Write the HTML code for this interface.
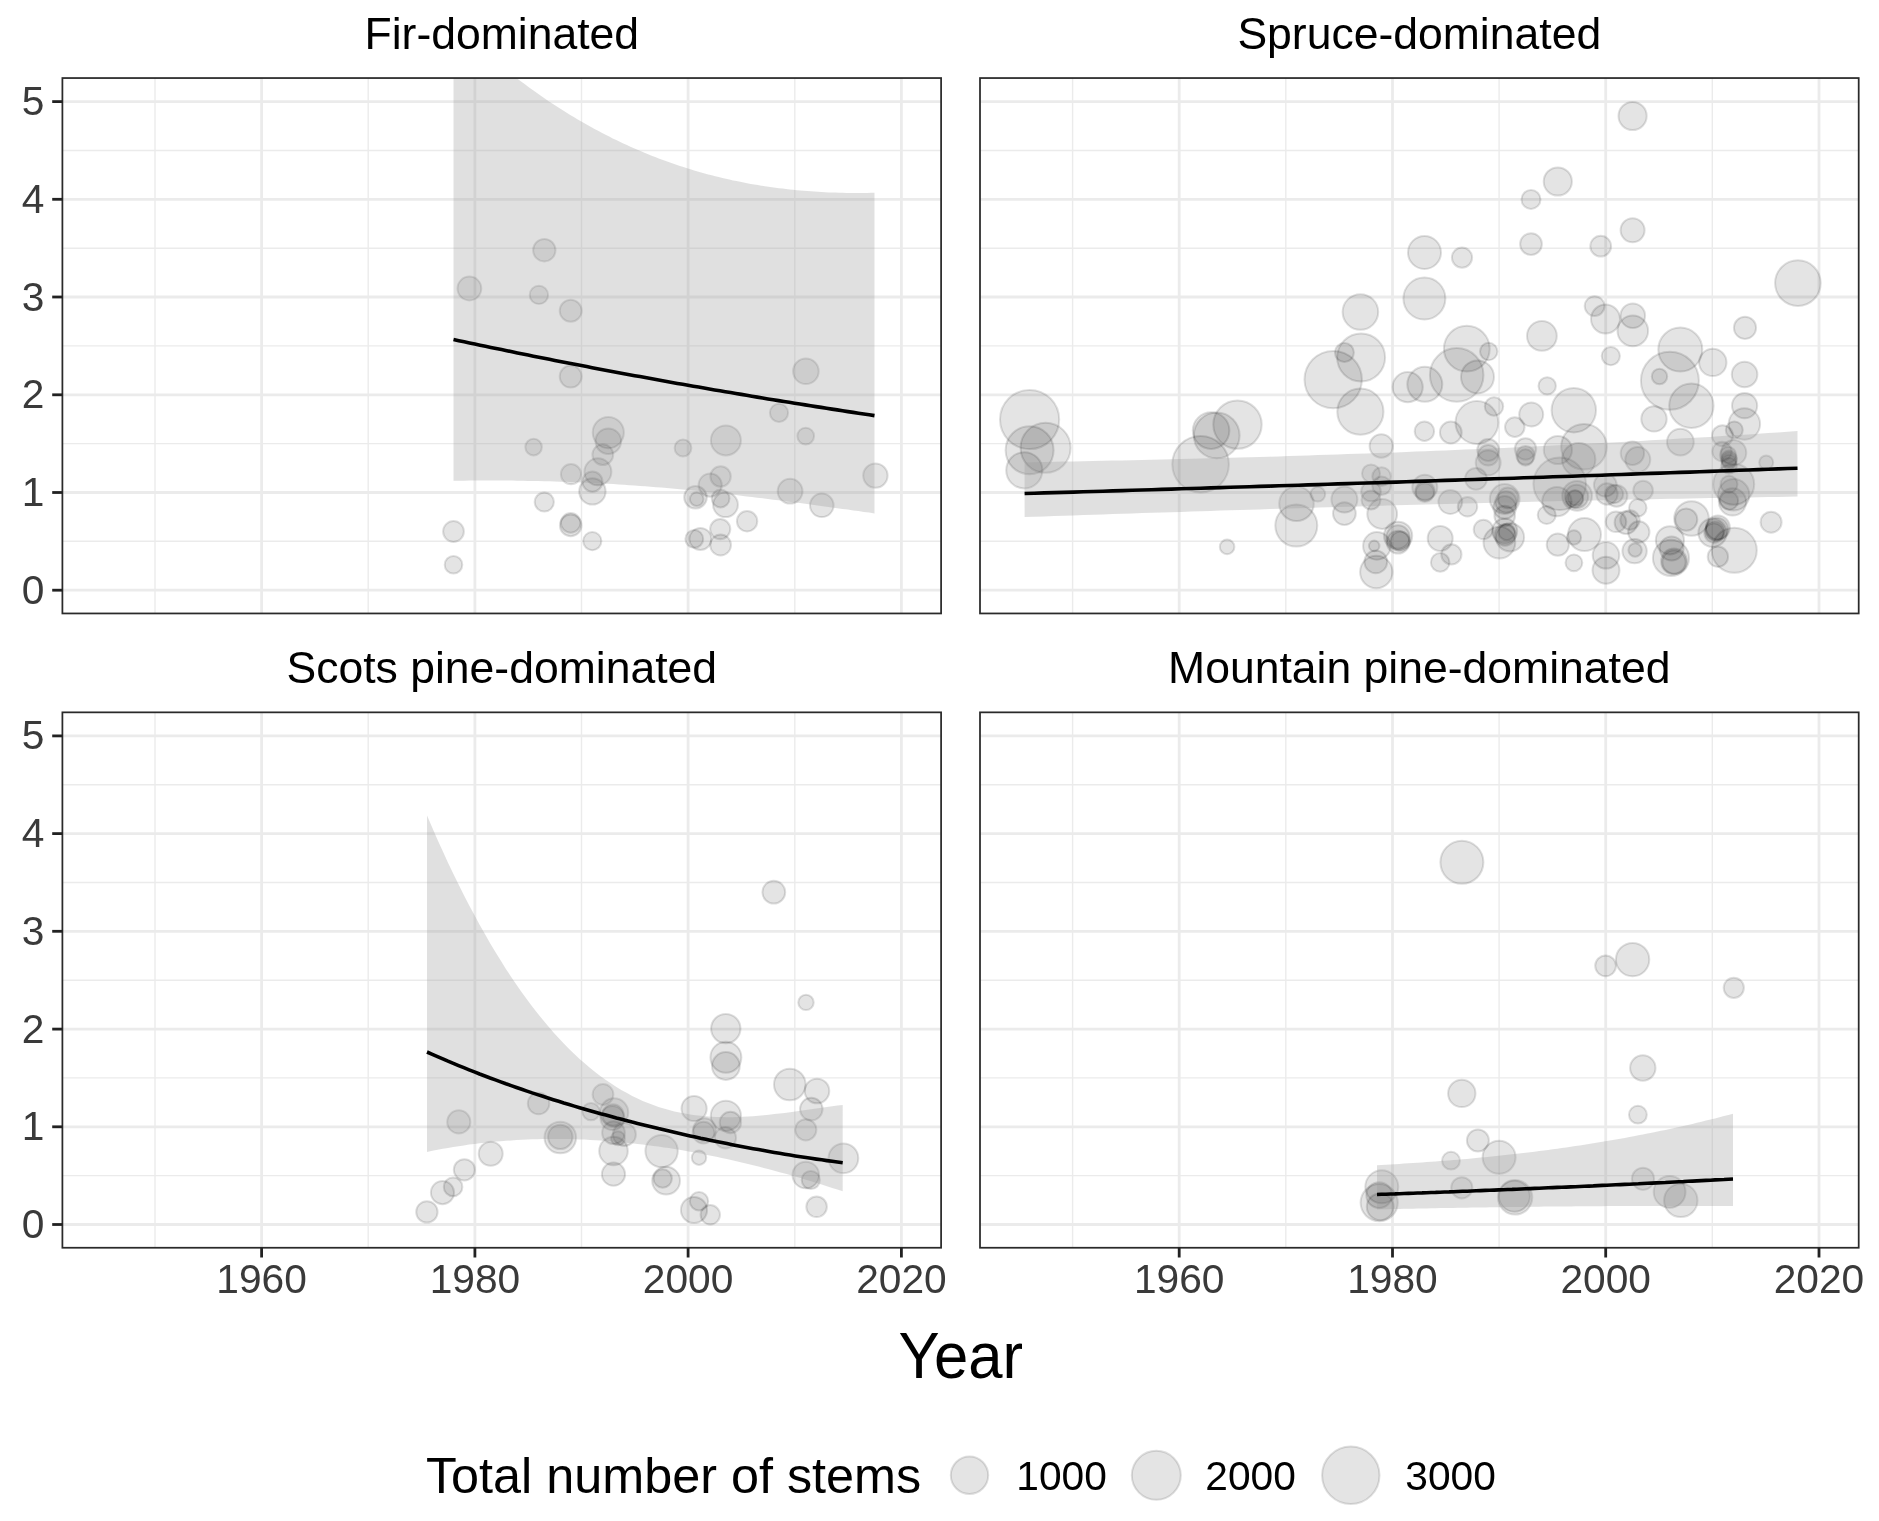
<!DOCTYPE html>
<html><head><meta charset="utf-8"><title>Total number of stems by year</title>
<style>
html,body{margin:0;padding:0;background:#fff;}
body{width:1879px;height:1521px;overflow:hidden;}
svg{display:block;will-change:transform;}
text{font-family:"Liberation Sans",Arial,Helvetica,sans-serif;}
.ax{font-size:40.7px;fill:#3a3a3a;}
.st{font-size:44.53px;fill:#000;}
.xt{font-size:61.65px;fill:#000;}
.lg{font-size:50.35px;fill:#000;}
.lt{font-size:40.7px;fill:#000;}
.pt{fill:#000;fill-opacity:0.105;stroke:#000;stroke-opacity:0.125;stroke-width:2.0px;}
</style></head><body>
<svg width="1879" height="1521" viewBox="0 0 1879 1521">
<rect width="100%" height="100%" fill="#fff"/>
<defs>
<clipPath id="c_fir"><rect x="62.4" y="78.0" width="878.7" height="535.4"/></clipPath>
<clipPath id="c_spruce"><rect x="980.0" y="78.0" width="878.7" height="535.4"/></clipPath>
<clipPath id="c_scots"><rect x="62.4" y="712.3" width="878.7" height="535.4"/></clipPath>
<clipPath id="c_mountain"><rect x="980.0" y="712.3" width="878.7" height="535.4"/></clipPath>
</defs>
<g clip-path="url(#c_fir)">
<line x1="155.0" y1="78.0" x2="155.0" y2="613.4" stroke="#ebebeb" stroke-width="1.4"/>
<line x1="368.2" y1="78.0" x2="368.2" y2="613.4" stroke="#ebebeb" stroke-width="1.4"/>
<line x1="581.5" y1="78.0" x2="581.5" y2="613.4" stroke="#ebebeb" stroke-width="1.4"/>
<line x1="794.8" y1="78.0" x2="794.8" y2="613.4" stroke="#ebebeb" stroke-width="1.4"/>
<line x1="62.4" y1="541.3" x2="941.1" y2="541.3" stroke="#ebebeb" stroke-width="1.4"/>
<line x1="62.4" y1="443.6" x2="941.1" y2="443.6" stroke="#ebebeb" stroke-width="1.4"/>
<line x1="62.4" y1="345.9" x2="941.1" y2="345.9" stroke="#ebebeb" stroke-width="1.4"/>
<line x1="62.4" y1="248.2" x2="941.1" y2="248.2" stroke="#ebebeb" stroke-width="1.4"/>
<line x1="62.4" y1="150.5" x2="941.1" y2="150.5" stroke="#ebebeb" stroke-width="1.4"/>
<line x1="261.6" y1="78.0" x2="261.6" y2="613.4" stroke="#ebebeb" stroke-width="2.8"/>
<line x1="474.9" y1="78.0" x2="474.9" y2="613.4" stroke="#ebebeb" stroke-width="2.8"/>
<line x1="688.1" y1="78.0" x2="688.1" y2="613.4" stroke="#ebebeb" stroke-width="2.8"/>
<line x1="901.4" y1="78.0" x2="901.4" y2="613.4" stroke="#ebebeb" stroke-width="2.8"/>
<line x1="62.4" y1="590.2" x2="941.1" y2="590.2" stroke="#ebebeb" stroke-width="2.8"/>
<line x1="62.4" y1="492.5" x2="941.1" y2="492.5" stroke="#ebebeb" stroke-width="2.8"/>
<line x1="62.4" y1="394.8" x2="941.1" y2="394.8" stroke="#ebebeb" stroke-width="2.8"/>
<line x1="62.4" y1="297.0" x2="941.1" y2="297.0" stroke="#ebebeb" stroke-width="2.8"/>
<line x1="62.4" y1="199.3" x2="941.1" y2="199.3" stroke="#ebebeb" stroke-width="2.8"/>
<line x1="62.4" y1="101.6" x2="941.1" y2="101.6" stroke="#ebebeb" stroke-width="2.8"/>
<circle cx="469.4" cy="288.5" r="11.9" class="pt"/>
<circle cx="544.3" cy="250.2" r="11.2" class="pt"/>
<circle cx="538.9" cy="294.9" r="9.2" class="pt"/>
<circle cx="570.7" cy="310.8" r="11.0" class="pt"/>
<circle cx="570.7" cy="376.6" r="11.0" class="pt"/>
<circle cx="805.9" cy="371.3" r="12.8" class="pt"/>
<circle cx="779.0" cy="412.8" r="9.1" class="pt"/>
<circle cx="805.7" cy="436.1" r="8.4" class="pt"/>
<circle cx="725.9" cy="440.4" r="15.0" class="pt"/>
<circle cx="683.0" cy="448.0" r="8.4" class="pt"/>
<circle cx="875.4" cy="475.6" r="12.2" class="pt"/>
<circle cx="790.1" cy="491.2" r="12.4" class="pt"/>
<circle cx="720.6" cy="476.5" r="10.2" class="pt"/>
<circle cx="710.2" cy="485.1" r="11.6" class="pt"/>
<circle cx="695.5" cy="497.3" r="11.3" class="pt"/>
<circle cx="696.7" cy="499.1" r="6.9" class="pt"/>
<circle cx="720.6" cy="498.5" r="8.9" class="pt"/>
<circle cx="725.5" cy="504.7" r="12.4" class="pt"/>
<circle cx="821.8" cy="505.3" r="11.8" class="pt"/>
<circle cx="747.1" cy="521.2" r="10.2" class="pt"/>
<circle cx="720.2" cy="529.1" r="10.1" class="pt"/>
<circle cx="694.3" cy="538.9" r="8.9" class="pt"/>
<circle cx="700.4" cy="538.9" r="11.0" class="pt"/>
<circle cx="720.6" cy="545.0" r="10.4" class="pt"/>
<circle cx="608.3" cy="432.6" r="15.6" class="pt"/>
<circle cx="608.3" cy="441.2" r="12.8" class="pt"/>
<circle cx="602.8" cy="454.7" r="10.4" class="pt"/>
<circle cx="597.9" cy="471.8" r="13.5" class="pt"/>
<circle cx="592.4" cy="481.6" r="10.1" class="pt"/>
<circle cx="592.4" cy="491.4" r="13.2" class="pt"/>
<circle cx="571.0" cy="474.2" r="10.1" class="pt"/>
<circle cx="533.6" cy="447.1" r="8.3" class="pt"/>
<circle cx="544.3" cy="502.0" r="9.6" class="pt"/>
<circle cx="570.7" cy="522.9" r="9.8" class="pt"/>
<circle cx="570.7" cy="525.4" r="10.8" class="pt"/>
<circle cx="592.3" cy="541.1" r="9.1" class="pt"/>
<circle cx="453.5" cy="531.5" r="10.4" class="pt"/>
<circle cx="453.5" cy="564.8" r="8.8" class="pt"/>
<path d="M453.5,21.4 L457.0,24.5 L460.6,27.7 L464.1,30.9 L467.7,34.1 L471.2,37.3 L474.7,40.5 L478.3,43.6 L481.8,46.8 L485.3,50.0 L488.9,53.2 L492.4,56.4 L496.0,59.6 L499.5,62.7 L503.0,65.9 L506.6,69.1 L510.1,72.3 L513.6,75.5 L517.2,78.5 L520.7,81.2 L524.3,83.8 L527.8,86.5 L531.3,89.0 L534.9,91.6 L538.4,94.1 L541.9,96.5 L545.5,99.0 L549.0,101.4 L552.6,103.7 L556.1,106.0 L559.6,108.3 L563.2,110.6 L566.7,112.8 L570.2,114.9 L573.8,117.1 L577.3,119.2 L580.9,121.3 L584.4,123.3 L587.9,125.3 L591.5,127.3 L595.0,129.2 L598.6,131.1 L602.1,133.0 L605.6,134.8 L609.2,136.6 L612.7,138.4 L616.2,140.1 L619.8,141.8 L623.3,143.5 L626.9,145.1 L630.4,146.7 L633.9,148.3 L637.5,149.8 L641.0,151.3 L644.5,152.8 L648.1,154.3 L651.6,155.7 L655.2,157.1 L658.7,158.4 L662.2,159.8 L665.8,161.1 L669.3,162.3 L672.8,163.6 L676.4,164.8 L679.9,166.0 L683.5,167.1 L687.0,168.2 L690.5,169.3 L694.1,170.4 L697.6,171.4 L701.1,172.4 L704.7,173.4 L708.2,174.4 L711.8,175.3 L715.3,176.2 L718.8,177.1 L722.4,178.0 L725.9,178.8 L729.4,179.6 L733.0,180.4 L736.5,181.1 L740.1,181.8 L743.6,182.5 L747.1,183.2 L750.7,183.9 L754.2,184.5 L757.8,185.1 L761.3,185.7 L764.8,186.2 L768.4,186.7 L771.9,187.2 L775.4,187.7 L779.0,188.2 L782.5,188.6 L786.1,189.0 L789.6,189.4 L793.1,189.8 L796.7,190.2 L800.2,190.5 L803.7,190.8 L807.3,191.1 L810.8,191.3 L814.4,191.6 L817.9,191.8 L821.4,192.0 L825.0,192.2 L828.5,192.4 L832.0,192.5 L835.6,192.6 L839.1,192.7 L842.7,192.8 L846.2,192.9 L849.7,192.9 L853.3,193.0 L856.8,193.0 L860.3,193.0 L863.9,192.9 L867.4,192.9 L871.0,192.8 L874.5,192.8 L874.5,513.4 L869.2,512.6 L863.8,511.9 L858.5,511.1 L853.2,510.4 L847.9,509.6 L842.5,508.9 L837.2,508.2 L831.9,507.4 L826.5,506.7 L821.2,506.0 L815.9,505.3 L810.6,504.5 L805.2,503.8 L799.9,503.1 L794.6,502.4 L789.2,501.7 L783.9,501.0 L778.6,500.3 L773.2,499.7 L767.9,499.0 L762.6,498.3 L757.3,497.7 L751.9,497.0 L746.6,496.4 L741.3,495.7 L735.9,495.1 L730.6,494.5 L725.3,493.9 L720.0,493.3 L714.6,492.7 L709.3,492.2 L704.0,491.6 L698.6,491.1 L693.3,490.5 L688.0,490.0 L682.7,489.5 L677.3,489.0 L672.0,488.5 L666.7,488.1 L661.3,487.6 L656.0,487.2 L650.7,486.7 L645.3,486.3 L640.0,485.9 L634.7,485.5 L629.4,485.2 L624.0,484.8 L618.7,484.5 L613.4,484.1 L608.0,483.8 L602.7,483.5 L597.4,483.2 L592.1,483.0 L586.7,482.7 L581.4,482.5 L576.1,482.2 L570.7,482.0 L565.4,481.8 L560.1,481.7 L554.8,481.5 L549.4,481.3 L544.1,481.2 L538.8,481.1 L533.4,481.0 L528.1,480.9 L522.8,480.8 L517.4,480.7 L512.1,480.6 L506.8,480.6 L501.5,480.6 L496.1,480.5 L490.8,480.5 L485.5,480.5 L480.1,480.5 L474.8,480.6 L469.5,480.6 L464.2,480.7 L458.8,480.7 L453.5,480.8 Z" fill="#999" fill-opacity="0.3"/>
<path d="M453.5,339.5 L458.8,340.7 L464.2,341.8 L469.5,342.9 L474.8,344.1 L480.1,345.2 L485.5,346.3 L490.8,347.4 L496.1,348.5 L501.5,349.6 L506.8,350.7 L512.1,351.8 L517.4,352.9 L522.8,354.0 L528.1,355.1 L533.4,356.2 L538.8,357.2 L544.1,358.3 L549.4,359.3 L554.8,360.4 L560.1,361.5 L565.4,362.5 L570.7,363.5 L576.1,364.6 L581.4,365.6 L586.7,366.6 L592.1,367.7 L597.4,368.7 L602.7,369.7 L608.0,370.7 L613.4,371.7 L618.7,372.7 L624.0,373.7 L629.4,374.7 L634.7,375.7 L640.0,376.6 L645.3,377.6 L650.7,378.6 L656.0,379.6 L661.3,380.5 L666.7,381.5 L672.0,382.4 L677.3,383.4 L682.7,384.3 L688.0,385.3 L693.3,386.2 L698.6,387.1 L704.0,388.1 L709.3,389.0 L714.6,389.9 L720.0,390.8 L725.3,391.7 L730.6,392.6 L735.9,393.5 L741.3,394.4 L746.6,395.3 L751.9,396.2 L757.3,397.1 L762.6,398.0 L767.9,398.9 L773.2,399.7 L778.6,400.6 L783.9,401.5 L789.2,402.3 L794.6,403.2 L799.9,404.1 L805.2,404.9 L810.6,405.8 L815.9,406.6 L821.2,407.4 L826.5,408.3 L831.9,409.1 L837.2,409.9 L842.5,410.8 L847.9,411.6 L853.2,412.4 L858.5,413.2 L863.8,414.0 L869.2,414.8 L874.5,415.6" fill="none" stroke="#000" stroke-width="3.6"/>
</g>
<rect x="62.40" y="78.05" width="878.70" height="535.40" fill="none" stroke="#2a2a2a" stroke-width="1.75"/>
<line x1="52.2" y1="590.2" x2="62.4" y2="590.2" stroke="#222" stroke-width="2.8"/>
<text x="44.4" y="603.7" text-anchor="end" class="ax">0</text>
<line x1="52.2" y1="492.5" x2="62.4" y2="492.5" stroke="#222" stroke-width="2.8"/>
<text x="44.4" y="505.9" text-anchor="end" class="ax">1</text>
<line x1="52.2" y1="394.8" x2="62.4" y2="394.8" stroke="#222" stroke-width="2.8"/>
<text x="44.4" y="408.2" text-anchor="end" class="ax">2</text>
<line x1="52.2" y1="297.0" x2="62.4" y2="297.0" stroke="#222" stroke-width="2.8"/>
<text x="44.4" y="310.5" text-anchor="end" class="ax">3</text>
<line x1="52.2" y1="199.3" x2="62.4" y2="199.3" stroke="#222" stroke-width="2.8"/>
<text x="44.4" y="212.8" text-anchor="end" class="ax">4</text>
<line x1="52.2" y1="101.6" x2="62.4" y2="101.6" stroke="#222" stroke-width="2.8"/>
<text x="44.4" y="115.1" text-anchor="end" class="ax">5</text>
<text x="501.8" y="48.6" text-anchor="middle" class="st">Fir-dominated</text>
<g clip-path="url(#c_spruce)">
<line x1="1072.6" y1="78.0" x2="1072.6" y2="613.4" stroke="#ebebeb" stroke-width="1.4"/>
<line x1="1285.8" y1="78.0" x2="1285.8" y2="613.4" stroke="#ebebeb" stroke-width="1.4"/>
<line x1="1499.1" y1="78.0" x2="1499.1" y2="613.4" stroke="#ebebeb" stroke-width="1.4"/>
<line x1="1712.3" y1="78.0" x2="1712.3" y2="613.4" stroke="#ebebeb" stroke-width="1.4"/>
<line x1="980.0" y1="541.3" x2="1858.7" y2="541.3" stroke="#ebebeb" stroke-width="1.4"/>
<line x1="980.0" y1="443.6" x2="1858.7" y2="443.6" stroke="#ebebeb" stroke-width="1.4"/>
<line x1="980.0" y1="345.9" x2="1858.7" y2="345.9" stroke="#ebebeb" stroke-width="1.4"/>
<line x1="980.0" y1="248.2" x2="1858.7" y2="248.2" stroke="#ebebeb" stroke-width="1.4"/>
<line x1="980.0" y1="150.5" x2="1858.7" y2="150.5" stroke="#ebebeb" stroke-width="1.4"/>
<line x1="1179.2" y1="78.0" x2="1179.2" y2="613.4" stroke="#ebebeb" stroke-width="2.8"/>
<line x1="1392.5" y1="78.0" x2="1392.5" y2="613.4" stroke="#ebebeb" stroke-width="2.8"/>
<line x1="1605.7" y1="78.0" x2="1605.7" y2="613.4" stroke="#ebebeb" stroke-width="2.8"/>
<line x1="1819.0" y1="78.0" x2="1819.0" y2="613.4" stroke="#ebebeb" stroke-width="2.8"/>
<line x1="980.0" y1="590.2" x2="1858.7" y2="590.2" stroke="#ebebeb" stroke-width="2.8"/>
<line x1="980.0" y1="492.5" x2="1858.7" y2="492.5" stroke="#ebebeb" stroke-width="2.8"/>
<line x1="980.0" y1="394.8" x2="1858.7" y2="394.8" stroke="#ebebeb" stroke-width="2.8"/>
<line x1="980.0" y1="297.0" x2="1858.7" y2="297.0" stroke="#ebebeb" stroke-width="2.8"/>
<line x1="980.0" y1="199.3" x2="1858.7" y2="199.3" stroke="#ebebeb" stroke-width="2.8"/>
<line x1="980.0" y1="101.6" x2="1858.7" y2="101.6" stroke="#ebebeb" stroke-width="2.8"/>
<circle cx="1029.6" cy="419.5" r="29.6" class="pt"/>
<circle cx="1045.6" cy="447.8" r="25.0" class="pt"/>
<circle cx="1029.6" cy="450.2" r="24.0" class="pt"/>
<circle cx="1024.3" cy="470.3" r="18.1" class="pt"/>
<circle cx="1237.5" cy="424.6" r="24.2" class="pt"/>
<circle cx="1211.1" cy="430.6" r="18.3" class="pt"/>
<circle cx="1216.7" cy="435.4" r="22.9" class="pt"/>
<circle cx="1200.6" cy="464.2" r="28.3" class="pt"/>
<circle cx="1227.1" cy="546.9" r="7.3" class="pt"/>
<circle cx="1557.8" cy="181.5" r="14.1" class="pt"/>
<circle cx="1531.0" cy="199.4" r="9.5" class="pt"/>
<circle cx="1531.0" cy="244.1" r="10.9" class="pt"/>
<circle cx="1424.5" cy="252.5" r="16.5" class="pt"/>
<circle cx="1462.0" cy="257.6" r="10.1" class="pt"/>
<circle cx="1632.6" cy="116.0" r="14.1" class="pt"/>
<circle cx="1632.6" cy="230.2" r="12.0" class="pt"/>
<circle cx="1600.7" cy="246.2" r="10.4" class="pt"/>
<circle cx="1797.9" cy="283.1" r="22.8" class="pt"/>
<circle cx="1360.4" cy="312.0" r="17.8" class="pt"/>
<circle cx="1424.4" cy="298.5" r="21.0" class="pt"/>
<circle cx="1361.1" cy="357.5" r="24.0" class="pt"/>
<circle cx="1344.4" cy="352.5" r="9.5" class="pt"/>
<circle cx="1333.2" cy="379.6" r="28.7" class="pt"/>
<circle cx="1407.7" cy="387.1" r="15.1" class="pt"/>
<circle cx="1424.8" cy="384.3" r="17.5" class="pt"/>
<circle cx="1456.7" cy="374.9" r="26.8" class="pt"/>
<circle cx="1466.8" cy="348.7" r="22.9" class="pt"/>
<circle cx="1541.9" cy="335.9" r="14.9" class="pt"/>
<circle cx="1477.5" cy="376.9" r="16.5" class="pt"/>
<circle cx="1488.7" cy="351.5" r="8.7" class="pt"/>
<circle cx="1547.2" cy="385.9" r="8.7" class="pt"/>
<circle cx="1573.8" cy="410.2" r="22.2" class="pt"/>
<circle cx="1531.2" cy="414.5" r="12.0" class="pt"/>
<circle cx="1494.0" cy="406.5" r="9.2" class="pt"/>
<circle cx="1476.9" cy="422.5" r="21.4" class="pt"/>
<circle cx="1594.6" cy="306.1" r="9.9" class="pt"/>
<circle cx="1605.5" cy="319.0" r="14.5" class="pt"/>
<circle cx="1610.8" cy="356.1" r="9.1" class="pt"/>
<circle cx="1745.0" cy="327.8" r="11.1" class="pt"/>
<circle cx="1680.3" cy="349.6" r="22.0" class="pt"/>
<circle cx="1669.9" cy="380.7" r="29.0" class="pt"/>
<circle cx="1659.5" cy="376.5" r="7.7" class="pt"/>
<circle cx="1712.8" cy="362.4" r="13.7" class="pt"/>
<circle cx="1744.6" cy="374.5" r="12.8" class="pt"/>
<circle cx="1691.4" cy="405.8" r="22.2" class="pt"/>
<circle cx="1744.6" cy="405.7" r="12.6" class="pt"/>
<circle cx="1744.4" cy="424.0" r="15.7" class="pt"/>
<circle cx="1654.0" cy="418.9" r="12.7" class="pt"/>
<circle cx="1632.8" cy="315.7" r="12.3" class="pt"/>
<circle cx="1632.8" cy="330.9" r="15.3" class="pt"/>
<circle cx="1360.4" cy="411.7" r="23.1" class="pt"/>
<circle cx="1381.3" cy="446.0" r="11.7" class="pt"/>
<circle cx="1424.4" cy="431.2" r="9.7" class="pt"/>
<circle cx="1450.8" cy="432.5" r="10.9" class="pt"/>
<circle cx="1371.0" cy="473.4" r="9.0" class="pt"/>
<circle cx="1381.6" cy="476.6" r="9.3" class="pt"/>
<circle cx="1381.6" cy="485.7" r="9.3" class="pt"/>
<circle cx="1371.0" cy="491.5" r="9.8" class="pt"/>
<circle cx="1371.0" cy="500.0" r="9.5" class="pt"/>
<circle cx="1317.8" cy="494.2" r="7.4" class="pt"/>
<circle cx="1344.4" cy="499.5" r="13.0" class="pt"/>
<circle cx="1344.4" cy="513.6" r="11.4" class="pt"/>
<circle cx="1296.5" cy="503.8" r="17.3" class="pt"/>
<circle cx="1296.3" cy="525.6" r="21.0" class="pt"/>
<circle cx="1382.2" cy="514.0" r="14.9" class="pt"/>
<circle cx="1424.8" cy="487.3" r="12.5" class="pt"/>
<circle cx="1424.8" cy="492.6" r="9.3" class="pt"/>
<circle cx="1450.3" cy="502.0" r="11.9" class="pt"/>
<circle cx="1467.5" cy="506.8" r="9.7" class="pt"/>
<circle cx="1476.0" cy="478.8" r="10.9" class="pt"/>
<circle cx="1398.1" cy="535.8" r="14.1" class="pt"/>
<circle cx="1398.1" cy="542.2" r="11.4" class="pt"/>
<circle cx="1400.3" cy="541.1" r="9.7" class="pt"/>
<circle cx="1376.9" cy="545.9" r="13.8" class="pt"/>
<circle cx="1374.2" cy="545.9" r="5.3" class="pt"/>
<circle cx="1376.3" cy="572.0" r="16.2" class="pt"/>
<circle cx="1375.8" cy="561.8" r="11.4" class="pt"/>
<circle cx="1440.2" cy="538.4" r="12.5" class="pt"/>
<circle cx="1451.4" cy="554.4" r="10.1" class="pt"/>
<circle cx="1440.2" cy="562.4" r="9.3" class="pt"/>
<circle cx="1514.8" cy="427.1" r="9.8" class="pt"/>
<circle cx="1584.0" cy="446.8" r="22.8" class="pt"/>
<circle cx="1557.9" cy="450.0" r="14.1" class="pt"/>
<circle cx="1488.2" cy="450.0" r="10.9" class="pt"/>
<circle cx="1488.2" cy="455.3" r="10.3" class="pt"/>
<circle cx="1488.2" cy="462.8" r="12.5" class="pt"/>
<circle cx="1525.5" cy="449.0" r="10.7" class="pt"/>
<circle cx="1525.5" cy="455.3" r="9.3" class="pt"/>
<circle cx="1525.5" cy="457.5" r="8.2" class="pt"/>
<circle cx="1632.4" cy="453.2" r="11.7" class="pt"/>
<circle cx="1637.8" cy="459.6" r="12.5" class="pt"/>
<circle cx="1578.7" cy="459.6" r="16.7" class="pt"/>
<circle cx="1559.7" cy="483.8" r="26.3" class="pt"/>
<circle cx="1577.1" cy="495.8" r="14.9" class="pt"/>
<circle cx="1575.5" cy="497.9" r="7.7" class="pt"/>
<circle cx="1556.9" cy="501.6" r="14.7" class="pt"/>
<circle cx="1616.5" cy="495.8" r="10.9" class="pt"/>
<circle cx="1643.1" cy="490.5" r="9.8" class="pt"/>
<circle cx="1605.3" cy="485.1" r="11.4" class="pt"/>
<circle cx="1504.7" cy="499.0" r="14.9" class="pt"/>
<circle cx="1507.9" cy="497.9" r="10.3" class="pt"/>
<circle cx="1504.7" cy="507.5" r="11.4" class="pt"/>
<circle cx="1504.7" cy="516.0" r="10.3" class="pt"/>
<circle cx="1546.7" cy="515.0" r="9.0" class="pt"/>
<circle cx="1584.5" cy="534.6" r="16.5" class="pt"/>
<circle cx="1637.8" cy="507.8" r="8.7" class="pt"/>
<circle cx="1626.0" cy="522.6" r="11.4" class="pt"/>
<circle cx="1616.0" cy="521.8" r="10.3" class="pt"/>
<circle cx="1483.4" cy="529.5" r="9.7" class="pt"/>
<circle cx="1504.7" cy="531.0" r="12.5" class="pt"/>
<circle cx="1573.9" cy="537.5" r="7.2" class="pt"/>
<circle cx="1557.8" cy="544.7" r="11.1" class="pt"/>
<circle cx="1573.9" cy="562.8" r="8.4" class="pt"/>
<circle cx="1606.0" cy="555.3" r="13.3" class="pt"/>
<circle cx="1606.0" cy="570.2" r="13.5" class="pt"/>
<circle cx="1634.6" cy="551.1" r="12.2" class="pt"/>
<circle cx="1635.1" cy="550.0" r="6.7" class="pt"/>
<circle cx="1638.8" cy="532.0" r="10.7" class="pt"/>
<circle cx="1499.4" cy="542.6" r="15.9" class="pt"/>
<circle cx="1510.0" cy="537.3" r="14.1" class="pt"/>
<circle cx="1506.8" cy="532.0" r="8.2" class="pt"/>
<circle cx="1734.3" cy="429.9" r="8.5" class="pt"/>
<circle cx="1722.5" cy="435.7" r="10.5" class="pt"/>
<circle cx="1680.4" cy="442.1" r="13.4" class="pt"/>
<circle cx="1733.7" cy="452.7" r="12.6" class="pt"/>
<circle cx="1722.0" cy="451.5" r="9.7" class="pt"/>
<circle cx="1729.0" cy="458.5" r="7.9" class="pt"/>
<circle cx="1729.0" cy="462.0" r="7.3" class="pt"/>
<circle cx="1729.0" cy="465.6" r="7.9" class="pt"/>
<circle cx="1766.2" cy="462.4" r="7.0" class="pt"/>
<circle cx="1733.7" cy="484.3" r="20.5" class="pt"/>
<circle cx="1729.0" cy="484.3" r="8.5" class="pt"/>
<circle cx="1733.7" cy="494.8" r="15.7" class="pt"/>
<circle cx="1729.0" cy="500.7" r="9.1" class="pt"/>
<circle cx="1732.5" cy="501.9" r="13.7" class="pt"/>
<circle cx="1691.5" cy="518.5" r="17.3" class="pt"/>
<circle cx="1686.2" cy="519.6" r="11.1" class="pt"/>
<circle cx="1771.1" cy="522.2" r="10.5" class="pt"/>
<circle cx="1712.6" cy="532.7" r="14.2" class="pt"/>
<circle cx="1717.9" cy="527.5" r="12.0" class="pt"/>
<circle cx="1714.9" cy="531.0" r="9.7" class="pt"/>
<circle cx="1734.3" cy="550.3" r="22.5" class="pt"/>
<circle cx="1717.9" cy="556.7" r="10.2" class="pt"/>
<circle cx="1669.9" cy="540.3" r="14.1" class="pt"/>
<circle cx="1674.0" cy="561.4" r="12.9" class="pt"/>
<circle cx="1671.0" cy="557.9" r="18.1" class="pt"/>
<circle cx="1671.6" cy="548.5" r="12.0" class="pt"/>
<circle cx="1576.5" cy="496.5" r="11.7" class="pt"/>
<circle cx="1574.5" cy="499.0" r="8.7" class="pt"/>
<circle cx="1614.0" cy="494.0" r="9.2" class="pt"/>
<circle cx="1717.0" cy="529.0" r="11.2" class="pt"/>
<circle cx="1714.0" cy="533.0" r="9.7" class="pt"/>
<circle cx="1674.0" cy="562.0" r="11.7" class="pt"/>
<circle cx="1729.0" cy="460.0" r="7.7" class="pt"/>
<circle cx="1728.0" cy="455.0" r="8.2" class="pt"/>
<circle cx="1607.0" cy="494.0" r="10.7" class="pt"/>
<circle cx="1398.0" cy="537.0" r="11.7" class="pt"/>
<circle cx="1505.0" cy="535.0" r="10.7" class="pt"/>
<circle cx="1425.0" cy="491.0" r="9.7" class="pt"/>
<circle cx="1506.0" cy="502.0" r="10.7" class="pt"/>
<circle cx="1630.0" cy="520.0" r="9.7" class="pt"/>
<path d="M1024.6,462.4 L1034.4,462.2 L1044.2,462.0 L1054.0,461.8 L1063.7,461.6 L1073.5,461.5 L1083.3,461.3 L1093.1,461.1 L1102.9,460.8 L1112.7,460.6 L1122.4,460.4 L1132.2,460.2 L1142.0,460.0 L1151.8,459.8 L1161.6,459.5 L1171.4,459.3 L1181.1,459.1 L1190.9,458.8 L1200.7,458.6 L1210.5,458.3 L1220.3,458.0 L1230.1,457.8 L1239.8,457.5 L1249.6,457.2 L1259.4,456.9 L1269.2,456.7 L1279.0,456.4 L1288.8,456.1 L1298.5,455.8 L1308.3,455.4 L1318.1,455.1 L1327.9,454.8 L1337.7,454.5 L1347.5,454.1 L1357.2,453.8 L1367.0,453.5 L1376.8,453.1 L1386.6,452.7 L1396.4,452.4 L1406.2,452.0 L1415.9,451.6 L1425.7,451.2 L1435.5,450.8 L1445.3,450.4 L1455.1,450.0 L1464.9,449.6 L1474.6,449.2 L1484.4,448.8 L1494.2,448.3 L1504.0,447.9 L1513.8,447.4 L1523.6,447.0 L1533.3,446.5 L1543.1,446.0 L1552.9,445.6 L1562.7,445.1 L1572.5,444.6 L1582.3,444.1 L1592.0,443.6 L1601.8,443.0 L1611.6,442.5 L1621.4,442.0 L1631.2,441.4 L1641.0,440.9 L1650.7,440.3 L1660.5,439.8 L1670.3,439.2 L1680.1,438.6 L1689.9,438.0 L1699.7,437.5 L1709.4,436.9 L1719.2,436.2 L1729.0,435.6 L1738.8,435.0 L1748.6,434.4 L1758.4,433.7 L1768.1,433.1 L1777.9,432.4 L1787.7,431.8 L1797.5,431.1 L1797.5,496.6 L1787.7,496.8 L1777.9,496.9 L1768.1,497.1 L1758.4,497.3 L1748.6,497.4 L1738.8,497.6 L1729.0,497.8 L1719.2,497.9 L1709.4,498.1 L1699.7,498.3 L1689.9,498.5 L1680.1,498.7 L1670.3,498.8 L1660.5,499.0 L1650.7,499.2 L1641.0,499.4 L1631.2,499.6 L1621.4,499.8 L1611.6,500.0 L1601.8,500.3 L1592.0,500.5 L1582.3,500.7 L1572.5,500.9 L1562.7,501.1 L1552.9,501.3 L1543.1,501.6 L1533.3,501.8 L1523.6,502.0 L1513.8,502.3 L1504.0,502.5 L1494.2,502.8 L1484.4,503.0 L1474.6,503.3 L1464.9,503.5 L1455.1,503.8 L1445.3,504.0 L1435.5,504.3 L1425.7,504.5 L1415.9,504.8 L1406.2,505.1 L1396.4,505.3 L1386.6,505.6 L1376.8,505.9 L1367.0,506.2 L1357.2,506.4 L1347.5,506.7 L1337.7,507.0 L1327.9,507.3 L1318.1,507.6 L1308.3,507.9 L1298.5,508.2 L1288.8,508.5 L1279.0,508.8 L1269.2,509.1 L1259.4,509.4 L1249.6,509.7 L1239.8,510.0 L1230.1,510.3 L1220.3,510.6 L1210.5,510.9 L1200.7,511.2 L1190.9,511.5 L1181.1,511.9 L1171.4,512.2 L1161.6,512.5 L1151.8,512.8 L1142.0,513.1 L1132.2,513.4 L1122.4,513.8 L1112.7,514.1 L1102.9,514.4 L1093.1,514.7 L1083.3,515.1 L1073.5,515.4 L1063.7,515.7 L1054.0,516.1 L1044.2,516.4 L1034.4,516.7 L1024.6,517.0 Z" fill="#999" fill-opacity="0.3"/>
<path d="M1024.6,493.5 L1034.4,493.2 L1044.2,492.9 L1054.0,492.6 L1063.7,492.4 L1073.5,492.1 L1083.3,491.8 L1093.1,491.5 L1102.9,491.2 L1112.7,490.9 L1122.4,490.6 L1132.2,490.3 L1142.0,490.0 L1151.8,489.7 L1161.6,489.4 L1171.4,489.1 L1181.1,488.8 L1190.9,488.5 L1200.7,488.2 L1210.5,487.9 L1220.3,487.6 L1230.1,487.3 L1239.8,487.0 L1249.6,486.7 L1259.4,486.4 L1269.2,486.1 L1279.0,485.8 L1288.8,485.5 L1298.5,485.2 L1308.3,484.9 L1318.1,484.6 L1327.9,484.3 L1337.7,483.9 L1347.5,483.6 L1357.2,483.3 L1367.0,483.0 L1376.8,482.7 L1386.6,482.4 L1396.4,482.1 L1406.2,481.7 L1415.9,481.4 L1425.7,481.1 L1435.5,480.8 L1445.3,480.4 L1455.1,480.1 L1464.9,479.8 L1474.6,479.5 L1484.4,479.1 L1494.2,478.8 L1504.0,478.5 L1513.8,478.2 L1523.6,477.8 L1533.3,477.5 L1543.1,477.2 L1552.9,476.8 L1562.7,476.5 L1572.5,476.2 L1582.3,475.8 L1592.0,475.5 L1601.8,475.2 L1611.6,474.8 L1621.4,474.5 L1631.2,474.1 L1641.0,473.8 L1650.7,473.4 L1660.5,473.1 L1670.3,472.8 L1680.1,472.4 L1689.9,472.1 L1699.7,471.7 L1709.4,471.4 L1719.2,471.0 L1729.0,470.7 L1738.8,470.3 L1748.6,470.0 L1758.4,469.6 L1768.1,469.2 L1777.9,468.9 L1787.7,468.5 L1797.5,468.2" fill="none" stroke="#000" stroke-width="3.6"/>
</g>
<rect x="980.00" y="78.05" width="878.70" height="535.40" fill="none" stroke="#2a2a2a" stroke-width="1.75"/>
<text x="1419.3" y="48.6" text-anchor="middle" class="st">Spruce-dominated</text>
<g clip-path="url(#c_scots)">
<line x1="155.0" y1="712.3" x2="155.0" y2="1247.6999999999998" stroke="#ebebeb" stroke-width="1.4"/>
<line x1="368.2" y1="712.3" x2="368.2" y2="1247.6999999999998" stroke="#ebebeb" stroke-width="1.4"/>
<line x1="581.5" y1="712.3" x2="581.5" y2="1247.6999999999998" stroke="#ebebeb" stroke-width="1.4"/>
<line x1="794.8" y1="712.3" x2="794.8" y2="1247.6999999999998" stroke="#ebebeb" stroke-width="1.4"/>
<line x1="62.4" y1="1175.6" x2="941.1" y2="1175.6" stroke="#ebebeb" stroke-width="1.4"/>
<line x1="62.4" y1="1077.9" x2="941.1" y2="1077.9" stroke="#ebebeb" stroke-width="1.4"/>
<line x1="62.4" y1="980.2" x2="941.1" y2="980.2" stroke="#ebebeb" stroke-width="1.4"/>
<line x1="62.4" y1="882.5" x2="941.1" y2="882.5" stroke="#ebebeb" stroke-width="1.4"/>
<line x1="62.4" y1="784.8" x2="941.1" y2="784.8" stroke="#ebebeb" stroke-width="1.4"/>
<line x1="261.6" y1="712.3" x2="261.6" y2="1247.6999999999998" stroke="#ebebeb" stroke-width="2.8"/>
<line x1="474.9" y1="712.3" x2="474.9" y2="1247.6999999999998" stroke="#ebebeb" stroke-width="2.8"/>
<line x1="688.1" y1="712.3" x2="688.1" y2="1247.6999999999998" stroke="#ebebeb" stroke-width="2.8"/>
<line x1="901.4" y1="712.3" x2="901.4" y2="1247.6999999999998" stroke="#ebebeb" stroke-width="2.8"/>
<line x1="62.4" y1="1224.5" x2="941.1" y2="1224.5" stroke="#ebebeb" stroke-width="2.8"/>
<line x1="62.4" y1="1126.8" x2="941.1" y2="1126.8" stroke="#ebebeb" stroke-width="2.8"/>
<line x1="62.4" y1="1029.1" x2="941.1" y2="1029.1" stroke="#ebebeb" stroke-width="2.8"/>
<line x1="62.4" y1="931.3" x2="941.1" y2="931.3" stroke="#ebebeb" stroke-width="2.8"/>
<line x1="62.4" y1="833.6" x2="941.1" y2="833.6" stroke="#ebebeb" stroke-width="2.8"/>
<line x1="62.4" y1="735.9" x2="941.1" y2="735.9" stroke="#ebebeb" stroke-width="2.8"/>
<circle cx="458.8" cy="1121.9" r="11.6" class="pt"/>
<circle cx="538.6" cy="1103.5" r="10.8" class="pt"/>
<circle cx="560.3" cy="1137.5" r="15.8" class="pt"/>
<circle cx="560.3" cy="1136.9" r="12.2" class="pt"/>
<circle cx="490.7" cy="1153.8" r="12.0" class="pt"/>
<circle cx="464.4" cy="1169.8" r="10.6" class="pt"/>
<circle cx="453.1" cy="1186.9" r="9.3" class="pt"/>
<circle cx="442.5" cy="1192.6" r="11.6" class="pt"/>
<circle cx="426.9" cy="1211.9" r="10.7" class="pt"/>
<circle cx="603.0" cy="1094.5" r="10.4" class="pt"/>
<circle cx="591.0" cy="1111.6" r="8.7" class="pt"/>
<circle cx="614.1" cy="1112.5" r="14.2" class="pt"/>
<circle cx="612.4" cy="1118.1" r="12.0" class="pt"/>
<circle cx="613.5" cy="1132.7" r="11.4" class="pt"/>
<circle cx="624.4" cy="1134.4" r="11.5" class="pt"/>
<circle cx="618.0" cy="1138.3" r="7.0" class="pt"/>
<circle cx="613.5" cy="1151.0" r="14.3" class="pt"/>
<circle cx="613.5" cy="1174.2" r="11.6" class="pt"/>
<circle cx="661.6" cy="1151.1" r="16.2" class="pt"/>
<circle cx="662.7" cy="1178.5" r="9.2" class="pt"/>
<circle cx="666.1" cy="1180.7" r="13.9" class="pt"/>
<circle cx="694.1" cy="1108.5" r="12.6" class="pt"/>
<circle cx="704.6" cy="1129.7" r="11.4" class="pt"/>
<circle cx="703.5" cy="1132.7" r="10.9" class="pt"/>
<circle cx="725.9" cy="1115.8" r="15.1" class="pt"/>
<circle cx="730.4" cy="1122.5" r="10.7" class="pt"/>
<circle cx="725.4" cy="1137.8" r="10.7" class="pt"/>
<circle cx="699.0" cy="1157.7" r="7.2" class="pt"/>
<circle cx="694.0" cy="1210.0" r="13.1" class="pt"/>
<circle cx="699.0" cy="1201.2" r="9.2" class="pt"/>
<circle cx="710.3" cy="1214.8" r="9.7" class="pt"/>
<circle cx="773.8" cy="892.2" r="11.4" class="pt"/>
<circle cx="806.0" cy="1002.4" r="7.7" class="pt"/>
<circle cx="725.8" cy="1028.6" r="14.7" class="pt"/>
<circle cx="725.9" cy="1057.3" r="15.5" class="pt"/>
<circle cx="725.9" cy="1066.0" r="13.9" class="pt"/>
<circle cx="613.0" cy="1115.0" r="10.7" class="pt"/>
<circle cx="789.8" cy="1084.5" r="15.8" class="pt"/>
<circle cx="817.0" cy="1091.0" r="12.3" class="pt"/>
<circle cx="811.3" cy="1109.1" r="11.3" class="pt"/>
<circle cx="805.8" cy="1129.8" r="10.6" class="pt"/>
<circle cx="843.4" cy="1158.3" r="14.9" class="pt"/>
<circle cx="805.8" cy="1175.0" r="13.3" class="pt"/>
<circle cx="810.8" cy="1180.0" r="9.1" class="pt"/>
<circle cx="816.6" cy="1206.8" r="10.3" class="pt"/>
<path d="M427.0,815.5 L432.3,827.7 L437.5,839.7 L442.8,851.3 L448.0,862.7 L453.3,873.7 L458.6,884.5 L463.8,895.0 L469.1,905.2 L474.4,915.1 L479.6,924.7 L484.9,934.1 L490.1,943.2 L495.4,952.0 L500.7,960.6 L505.9,968.9 L511.2,976.9 L516.5,984.7 L521.7,992.2 L527.0,999.5 L532.2,1006.5 L537.5,1013.3 L542.8,1019.8 L548.0,1026.1 L553.3,1032.2 L558.6,1038.0 L563.8,1043.6 L569.1,1048.9 L574.3,1054.0 L579.6,1058.9 L584.9,1063.6 L590.1,1068.0 L595.4,1072.2 L600.6,1076.2 L605.9,1080.0 L611.2,1083.6 L616.4,1087.0 L621.7,1090.2 L627.0,1093.1 L632.2,1095.9 L637.5,1098.5 L642.7,1100.9 L648.0,1103.1 L653.3,1105.1 L658.5,1106.9 L663.8,1108.6 L669.1,1110.0 L674.3,1111.4 L679.6,1112.6 L684.8,1113.6 L690.1,1114.5 L695.4,1115.2 L700.6,1115.8 L705.9,1116.3 L711.1,1116.7 L716.4,1117.0 L721.7,1117.1 L726.9,1117.2 L732.2,1117.2 L737.5,1117.0 L742.7,1116.8 L748.0,1116.5 L753.2,1116.2 L758.5,1115.8 L763.8,1115.3 L769.0,1114.7 L774.3,1114.1 L779.6,1113.5 L784.8,1112.9 L790.1,1112.2 L795.3,1111.4 L800.6,1110.7 L805.9,1110.0 L811.1,1109.2 L816.4,1108.4 L821.7,1107.7 L826.9,1107.0 L832.2,1106.2 L837.4,1105.5 L842.7,1104.9 L842.7,1191.3 L837.4,1189.6 L832.2,1187.9 L826.9,1186.2 L821.7,1184.5 L816.4,1182.9 L811.1,1181.3 L805.9,1179.7 L800.6,1178.1 L795.3,1176.6 L790.1,1175.1 L784.8,1173.6 L779.6,1172.2 L774.3,1170.7 L769.0,1169.3 L763.8,1167.9 L758.5,1166.6 L753.2,1165.3 L748.0,1164.0 L742.7,1162.7 L737.5,1161.5 L732.2,1160.3 L726.9,1159.1 L721.7,1157.9 L716.4,1156.8 L711.1,1155.7 L705.9,1154.7 L700.6,1153.6 L695.4,1152.6 L690.1,1151.7 L684.8,1150.7 L679.6,1149.8 L674.3,1149.0 L669.1,1148.1 L663.8,1147.4 L658.5,1146.6 L653.3,1145.9 L648.0,1145.2 L642.7,1144.5 L637.5,1143.9 L632.2,1143.3 L627.0,1142.7 L621.7,1142.2 L616.4,1141.7 L611.2,1141.3 L605.9,1140.9 L600.6,1140.5 L595.4,1140.2 L590.1,1139.9 L584.9,1139.6 L579.6,1139.4 L574.3,1139.3 L569.1,1139.1 L563.8,1139.0 L558.6,1139.0 L553.3,1139.0 L548.0,1139.0 L542.8,1139.1 L537.5,1139.2 L532.2,1139.3 L527.0,1139.5 L521.7,1139.8 L516.5,1140.1 L511.2,1140.4 L505.9,1140.8 L500.7,1141.2 L495.4,1141.6 L490.1,1142.2 L484.9,1142.7 L479.6,1143.3 L474.4,1144.0 L469.1,1144.6 L463.8,1145.4 L458.6,1146.2 L453.3,1147.0 L448.0,1147.9 L442.8,1148.8 L437.5,1149.8 L432.3,1150.8 L427.0,1151.9 Z" fill="#999" fill-opacity="0.3"/>
<path d="M427.0,1052.0 L432.3,1054.3 L437.5,1056.6 L442.8,1058.9 L448.0,1061.2 L453.3,1063.4 L458.6,1065.6 L463.8,1067.7 L469.1,1069.8 L474.4,1071.9 L479.6,1074.0 L484.9,1076.0 L490.1,1078.0 L495.4,1079.9 L500.7,1081.9 L505.9,1083.8 L511.2,1085.6 L516.5,1087.5 L521.7,1089.3 L527.0,1091.1 L532.2,1092.9 L537.5,1094.6 L542.8,1096.3 L548.0,1098.0 L553.3,1099.7 L558.6,1101.3 L563.8,1103.0 L569.1,1104.5 L574.3,1106.1 L579.6,1107.7 L584.9,1109.2 L590.1,1110.7 L595.4,1112.2 L600.6,1113.7 L605.9,1115.1 L611.2,1116.5 L616.4,1118.0 L621.7,1119.3 L627.0,1120.7 L632.2,1122.1 L637.5,1123.4 L642.7,1124.7 L648.0,1126.0 L653.3,1127.3 L658.5,1128.6 L663.8,1129.8 L669.1,1131.1 L674.3,1132.3 L679.6,1133.5 L684.8,1134.7 L690.1,1135.9 L695.4,1137.0 L700.6,1138.2 L705.9,1139.3 L711.1,1140.4 L716.4,1141.5 L721.7,1142.6 L726.9,1143.6 L732.2,1144.7 L737.5,1145.7 L742.7,1146.7 L748.0,1147.7 L753.2,1148.7 L758.5,1149.6 L763.8,1150.5 L769.0,1151.5 L774.3,1152.4 L779.6,1153.3 L784.8,1154.2 L790.1,1155.0 L795.3,1155.9 L800.6,1156.7 L805.9,1157.5 L811.1,1158.3 L816.4,1159.1 L821.7,1159.8 L826.9,1160.6 L832.2,1161.3 L837.4,1162.0 L842.7,1162.7" fill="none" stroke="#000" stroke-width="3.6"/>
</g>
<rect x="62.40" y="712.35" width="878.70" height="535.40" fill="none" stroke="#2a2a2a" stroke-width="1.75"/>
<line x1="52.2" y1="1224.5" x2="62.4" y2="1224.5" stroke="#222" stroke-width="2.8"/>
<text x="44.4" y="1238.0" text-anchor="end" class="ax">0</text>
<line x1="52.2" y1="1126.8" x2="62.4" y2="1126.8" stroke="#222" stroke-width="2.8"/>
<text x="44.4" y="1140.2" text-anchor="end" class="ax">1</text>
<line x1="52.2" y1="1029.1" x2="62.4" y2="1029.1" stroke="#222" stroke-width="2.8"/>
<text x="44.4" y="1042.5" text-anchor="end" class="ax">2</text>
<line x1="52.2" y1="931.3" x2="62.4" y2="931.3" stroke="#222" stroke-width="2.8"/>
<text x="44.4" y="944.8" text-anchor="end" class="ax">3</text>
<line x1="52.2" y1="833.6" x2="62.4" y2="833.6" stroke="#222" stroke-width="2.8"/>
<text x="44.4" y="847.1" text-anchor="end" class="ax">4</text>
<line x1="52.2" y1="735.9" x2="62.4" y2="735.9" stroke="#222" stroke-width="2.8"/>
<text x="44.4" y="749.4" text-anchor="end" class="ax">5</text>
<line x1="261.6" y1="1247.6999999999998" x2="261.6" y2="1257.5" stroke="#222" stroke-width="2.8"/>
<text x="261.6" y="1293.3" text-anchor="middle" class="ax">1960</text>
<line x1="474.9" y1="1247.6999999999998" x2="474.9" y2="1257.5" stroke="#222" stroke-width="2.8"/>
<text x="474.9" y="1293.3" text-anchor="middle" class="ax">1980</text>
<line x1="688.1" y1="1247.6999999999998" x2="688.1" y2="1257.5" stroke="#222" stroke-width="2.8"/>
<text x="688.1" y="1293.3" text-anchor="middle" class="ax">2000</text>
<line x1="901.4" y1="1247.6999999999998" x2="901.4" y2="1257.5" stroke="#222" stroke-width="2.8"/>
<text x="901.4" y="1293.3" text-anchor="middle" class="ax">2020</text>
<text x="501.8" y="682.9" text-anchor="middle" class="st">Scots pine-dominated</text>
<g clip-path="url(#c_mountain)">
<line x1="1072.6" y1="712.3" x2="1072.6" y2="1247.6999999999998" stroke="#ebebeb" stroke-width="1.4"/>
<line x1="1285.8" y1="712.3" x2="1285.8" y2="1247.6999999999998" stroke="#ebebeb" stroke-width="1.4"/>
<line x1="1499.1" y1="712.3" x2="1499.1" y2="1247.6999999999998" stroke="#ebebeb" stroke-width="1.4"/>
<line x1="1712.3" y1="712.3" x2="1712.3" y2="1247.6999999999998" stroke="#ebebeb" stroke-width="1.4"/>
<line x1="980.0" y1="1175.6" x2="1858.7" y2="1175.6" stroke="#ebebeb" stroke-width="1.4"/>
<line x1="980.0" y1="1077.9" x2="1858.7" y2="1077.9" stroke="#ebebeb" stroke-width="1.4"/>
<line x1="980.0" y1="980.2" x2="1858.7" y2="980.2" stroke="#ebebeb" stroke-width="1.4"/>
<line x1="980.0" y1="882.5" x2="1858.7" y2="882.5" stroke="#ebebeb" stroke-width="1.4"/>
<line x1="980.0" y1="784.8" x2="1858.7" y2="784.8" stroke="#ebebeb" stroke-width="1.4"/>
<line x1="1179.2" y1="712.3" x2="1179.2" y2="1247.6999999999998" stroke="#ebebeb" stroke-width="2.8"/>
<line x1="1392.5" y1="712.3" x2="1392.5" y2="1247.6999999999998" stroke="#ebebeb" stroke-width="2.8"/>
<line x1="1605.7" y1="712.3" x2="1605.7" y2="1247.6999999999998" stroke="#ebebeb" stroke-width="2.8"/>
<line x1="1819.0" y1="712.3" x2="1819.0" y2="1247.6999999999998" stroke="#ebebeb" stroke-width="2.8"/>
<line x1="980.0" y1="1224.5" x2="1858.7" y2="1224.5" stroke="#ebebeb" stroke-width="2.8"/>
<line x1="980.0" y1="1126.8" x2="1858.7" y2="1126.8" stroke="#ebebeb" stroke-width="2.8"/>
<line x1="980.0" y1="1029.1" x2="1858.7" y2="1029.1" stroke="#ebebeb" stroke-width="2.8"/>
<line x1="980.0" y1="931.3" x2="1858.7" y2="931.3" stroke="#ebebeb" stroke-width="2.8"/>
<line x1="980.0" y1="833.6" x2="1858.7" y2="833.6" stroke="#ebebeb" stroke-width="2.8"/>
<line x1="980.0" y1="735.9" x2="1858.7" y2="735.9" stroke="#ebebeb" stroke-width="2.8"/>
<circle cx="1461.9" cy="862.3" r="21.5" class="pt"/>
<circle cx="1605.6" cy="965.8" r="10.4" class="pt"/>
<circle cx="1632.6" cy="959.6" r="16.7" class="pt"/>
<circle cx="1733.8" cy="987.8" r="10.1" class="pt"/>
<circle cx="1642.8" cy="1068.0" r="12.7" class="pt"/>
<circle cx="1637.9" cy="1114.7" r="8.9" class="pt"/>
<circle cx="1461.8" cy="1093.4" r="13.7" class="pt"/>
<circle cx="1477.9" cy="1140.5" r="11.0" class="pt"/>
<circle cx="1499.1" cy="1157.3" r="16.5" class="pt"/>
<circle cx="1451.0" cy="1160.7" r="8.9" class="pt"/>
<circle cx="1461.8" cy="1187.8" r="10.6" class="pt"/>
<circle cx="1515.1" cy="1197.3" r="17.2" class="pt"/>
<circle cx="1514.4" cy="1196.2" r="15.5" class="pt"/>
<circle cx="1381.8" cy="1186.8" r="16.5" class="pt"/>
<circle cx="1379.2" cy="1195.2" r="12.9" class="pt"/>
<circle cx="1379.2" cy="1202.6" r="18.6" class="pt"/>
<circle cx="1380.2" cy="1206.8" r="13.4" class="pt"/>
<circle cx="1643.0" cy="1178.8" r="11.1" class="pt"/>
<circle cx="1669.6" cy="1191.9" r="15.9" class="pt"/>
<circle cx="1680.8" cy="1200.4" r="16.7" class="pt"/>
<path d="M1377.0,1165.2 L1381.5,1164.9 L1386.0,1164.7 L1390.5,1164.4 L1395.0,1164.2 L1399.5,1163.9 L1404.0,1163.6 L1408.5,1163.3 L1413.1,1163.1 L1417.6,1162.8 L1422.1,1162.4 L1426.6,1162.1 L1431.1,1161.8 L1435.6,1161.5 L1440.1,1161.1 L1444.6,1160.8 L1449.1,1160.4 L1453.6,1160.0 L1458.1,1159.7 L1462.6,1159.3 L1467.1,1158.9 L1471.6,1158.5 L1476.1,1158.0 L1480.6,1157.6 L1485.2,1157.2 L1489.7,1156.7 L1494.2,1156.3 L1498.7,1155.8 L1503.2,1155.3 L1507.7,1154.8 L1512.2,1154.3 L1516.7,1153.8 L1521.2,1153.3 L1525.7,1152.8 L1530.2,1152.2 L1534.7,1151.7 L1539.2,1151.1 L1543.7,1150.5 L1548.2,1149.9 L1552.7,1149.3 L1557.3,1148.7 L1561.8,1148.1 L1566.3,1147.4 L1570.8,1146.8 L1575.3,1146.1 L1579.8,1145.4 L1584.3,1144.7 L1588.8,1144.0 L1593.3,1143.3 L1597.8,1142.6 L1602.3,1141.8 L1606.8,1141.1 L1611.3,1140.3 L1615.8,1139.5 L1620.3,1138.7 L1624.8,1137.9 L1629.4,1137.1 L1633.9,1136.2 L1638.4,1135.3 L1642.9,1134.5 L1647.4,1133.6 L1651.9,1132.7 L1656.4,1131.8 L1660.9,1130.8 L1665.4,1129.9 L1669.9,1128.9 L1674.4,1127.9 L1678.9,1126.9 L1683.4,1125.9 L1687.9,1124.9 L1692.4,1123.9 L1696.9,1122.8 L1701.5,1121.7 L1706.0,1120.6 L1710.5,1119.5 L1715.0,1118.4 L1719.5,1117.2 L1724.0,1116.1 L1728.5,1114.9 L1733.0,1113.7 L1733.0,1206.0 L1728.5,1206.0 L1724.0,1205.9 L1719.5,1205.9 L1715.0,1205.9 L1710.5,1205.9 L1706.0,1205.9 L1701.5,1205.9 L1696.9,1205.9 L1692.4,1205.9 L1687.9,1205.9 L1683.4,1205.9 L1678.9,1205.9 L1674.4,1205.9 L1669.9,1205.9 L1665.4,1205.9 L1660.9,1205.9 L1656.4,1206.0 L1651.9,1206.0 L1647.4,1206.0 L1642.9,1206.0 L1638.4,1206.0 L1633.9,1206.0 L1629.4,1206.0 L1624.8,1206.1 L1620.3,1206.1 L1615.8,1206.1 L1611.3,1206.1 L1606.8,1206.1 L1602.3,1206.2 L1597.8,1206.2 L1593.3,1206.2 L1588.8,1206.2 L1584.3,1206.3 L1579.8,1206.3 L1575.3,1206.3 L1570.8,1206.4 L1566.3,1206.4 L1561.8,1206.5 L1557.3,1206.5 L1552.7,1206.5 L1548.2,1206.6 L1543.7,1206.6 L1539.2,1206.7 L1534.7,1206.7 L1530.2,1206.8 L1525.7,1206.8 L1521.2,1206.9 L1516.7,1206.9 L1512.2,1207.0 L1507.7,1207.1 L1503.2,1207.1 L1498.7,1207.2 L1494.2,1207.2 L1489.7,1207.3 L1485.2,1207.4 L1480.6,1207.4 L1476.1,1207.5 L1471.6,1207.6 L1467.1,1207.7 L1462.6,1207.7 L1458.1,1207.8 L1453.6,1207.9 L1449.1,1208.0 L1444.6,1208.0 L1440.1,1208.1 L1435.6,1208.2 L1431.1,1208.3 L1426.6,1208.4 L1422.1,1208.5 L1417.6,1208.6 L1413.1,1208.7 L1408.5,1208.7 L1404.0,1208.8 L1399.5,1208.9 L1395.0,1209.0 L1390.5,1209.1 L1386.0,1209.2 L1381.5,1209.3 L1377.0,1209.4 Z" fill="#999" fill-opacity="0.3"/>
<path d="M1377.0,1194.5 L1381.5,1194.3 L1386.0,1194.2 L1390.5,1194.0 L1395.0,1193.9 L1399.5,1193.7 L1404.0,1193.5 L1408.5,1193.4 L1413.1,1193.2 L1417.6,1193.0 L1422.1,1192.9 L1426.6,1192.7 L1431.1,1192.5 L1435.6,1192.4 L1440.1,1192.2 L1444.6,1192.0 L1449.1,1191.9 L1453.6,1191.7 L1458.1,1191.5 L1462.6,1191.3 L1467.1,1191.2 L1471.6,1191.0 L1476.1,1190.8 L1480.6,1190.6 L1485.2,1190.4 L1489.7,1190.3 L1494.2,1190.1 L1498.7,1189.9 L1503.2,1189.7 L1507.7,1189.5 L1512.2,1189.4 L1516.7,1189.2 L1521.2,1189.0 L1525.7,1188.8 L1530.2,1188.6 L1534.7,1188.4 L1539.2,1188.2 L1543.7,1188.0 L1548.2,1187.8 L1552.7,1187.6 L1557.3,1187.4 L1561.8,1187.3 L1566.3,1187.1 L1570.8,1186.9 L1575.3,1186.7 L1579.8,1186.5 L1584.3,1186.3 L1588.8,1186.1 L1593.3,1185.9 L1597.8,1185.6 L1602.3,1185.4 L1606.8,1185.2 L1611.3,1185.0 L1615.8,1184.8 L1620.3,1184.6 L1624.8,1184.4 L1629.4,1184.2 L1633.9,1184.0 L1638.4,1183.8 L1642.9,1183.5 L1647.4,1183.3 L1651.9,1183.1 L1656.4,1182.9 L1660.9,1182.7 L1665.4,1182.5 L1669.9,1182.2 L1674.4,1182.0 L1678.9,1181.8 L1683.4,1181.6 L1687.9,1181.3 L1692.4,1181.1 L1696.9,1180.9 L1701.5,1180.6 L1706.0,1180.4 L1710.5,1180.2 L1715.0,1179.9 L1719.5,1179.7 L1724.0,1179.5 L1728.5,1179.2 L1733.0,1179.0" fill="none" stroke="#000" stroke-width="3.6"/>
</g>
<rect x="980.00" y="712.35" width="878.70" height="535.40" fill="none" stroke="#2a2a2a" stroke-width="1.75"/>
<line x1="1179.2" y1="1247.6999999999998" x2="1179.2" y2="1257.5" stroke="#222" stroke-width="2.8"/>
<text x="1179.2" y="1293.3" text-anchor="middle" class="ax">1960</text>
<line x1="1392.5" y1="1247.6999999999998" x2="1392.5" y2="1257.5" stroke="#222" stroke-width="2.8"/>
<text x="1392.5" y="1293.3" text-anchor="middle" class="ax">1980</text>
<line x1="1605.7" y1="1247.6999999999998" x2="1605.7" y2="1257.5" stroke="#222" stroke-width="2.8"/>
<text x="1605.7" y="1293.3" text-anchor="middle" class="ax">2000</text>
<line x1="1819.0" y1="1247.6999999999998" x2="1819.0" y2="1257.5" stroke="#222" stroke-width="2.8"/>
<text x="1819.0" y="1293.3" text-anchor="middle" class="ax">2020</text>
<text x="1419.3" y="682.9" text-anchor="middle" class="st">Mountain pine-dominated</text>
<text transform="translate(898.6,1377.6) scale(1,1.04)" class="xt">Year</text>
<text x="425.9" y="1492.9" class="lg">Total number of stems</text>
<circle cx="969.5" cy="1475.3" r="18.7" class="pt"/>
<text x="1016.3" y="1489.65" class="lt">1000</text>
<circle cx="1156.3" cy="1475.3" r="24.5" class="pt"/>
<text x="1205.3" y="1489.65" class="lt">2000</text>
<circle cx="1350.8" cy="1475.3" r="28.7" class="pt"/>
<text x="1405.3" y="1489.65" class="lt">3000</text>
</svg>
</body></html>
